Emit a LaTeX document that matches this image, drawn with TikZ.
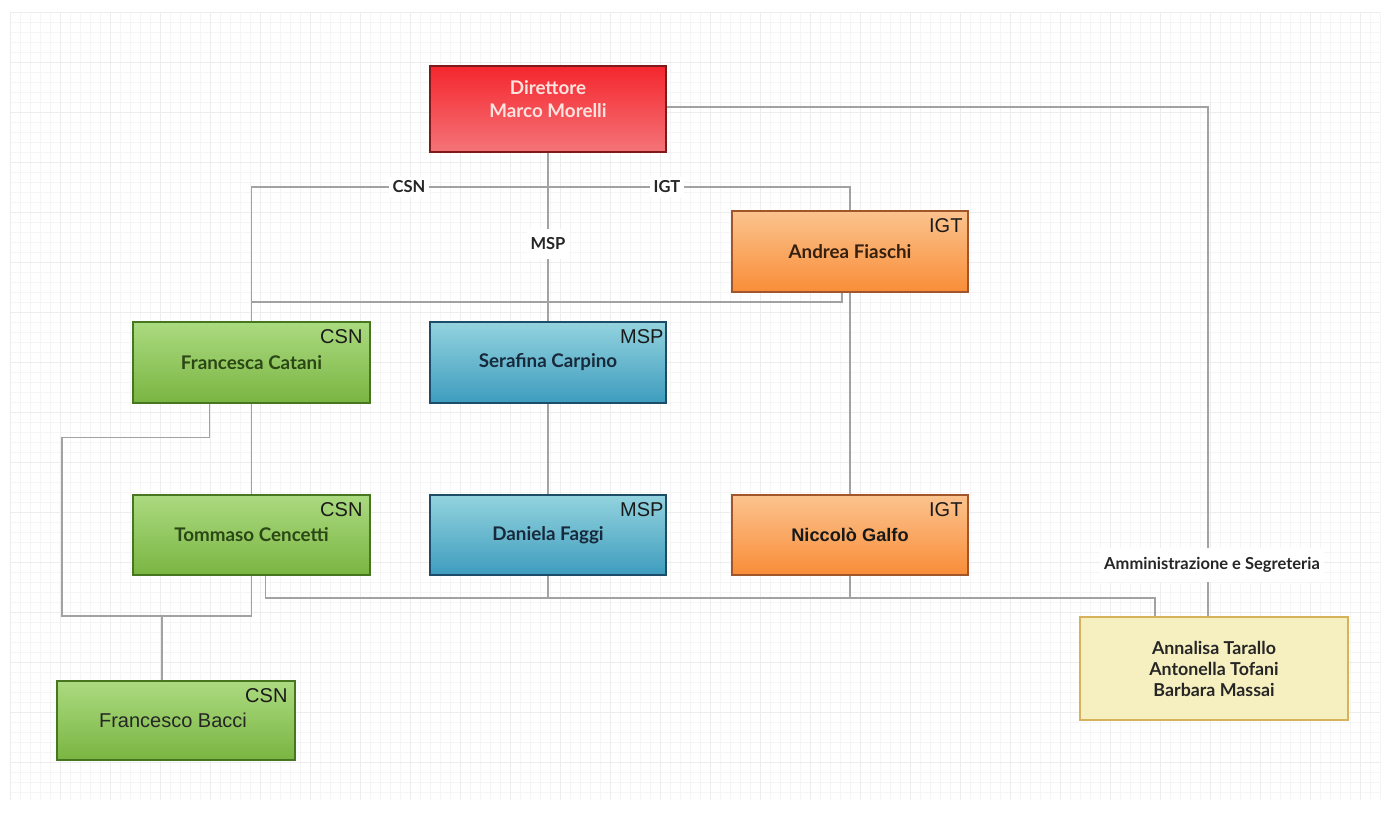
\documentclass[tikz,border=0pt]{standalone}
\usepackage{fontspec}
\setmainfont{Lato}
\newfontfamily\arialfont{Liberation Sans}
\usetikzlibrary{calc}
\definecolor{linegray}{HTML}{A2A2A2}
\definecolor{gridminor}{HTML}{F5F5F5}
\definecolor{gridmajor}{HTML}{EDEDED}
\definecolor{redtop}{HTML}{F5262E}
\definecolor{redbot}{HTML}{F47478}
\definecolor{redborder}{HTML}{7E1A1A}
\definecolor{redtext}{HTML}{FDE3DF}
\definecolor{greentop}{HTML}{ABDA80}
\definecolor{greenbot}{HTML}{7AB542}
\definecolor{greenborder}{HTML}{46761F}
\definecolor{greentext}{HTML}{2B4715}
\definecolor{bluetop}{HTML}{93D3DE}
\definecolor{bluebot}{HTML}{3E9CBE}
\definecolor{blueborder}{HTML}{1C4C68}
\definecolor{bluetext}{HTML}{17293A}
\definecolor{orangetop}{HTML}{FBC38E}
\definecolor{orangebot}{HTML}{F98D38}
\definecolor{orangeborder}{HTML}{A0552A}
\definecolor{orangetext}{HTML}{35200F}
\definecolor{yellowfill}{HTML}{F6F0C0}
\definecolor{yellowborder}{HTML}{D6B35A}
\definecolor{tagtext}{HTML}{1A1A1A}
\tikzset{
  box/.style={draw, line width=1.3pt, minimum width=236pt, minimum height=81pt,
    inner sep=0pt, align=center, font=\fontsize{18.8}{22}\selectfont\bfseries},
  greenbox/.style={box, top color=greentop, bottom color=greenbot, draw=greenborder, text=greentext},
  bluebox/.style={box, top color=bluetop, bottom color=bluebot, draw=blueborder, text=bluetext},
  orangebox/.style={box, top color=orangetop, bottom color=orangebot, draw=orangeborder, text=orangetext},
  redbox/.style={box, top color=redtop, bottom color=redbot, draw=redborder, text=redtext},
  yellowbox/.style={box, fill=yellowfill, draw=yellowborder, text=black!85},
  tag/.style={anchor=north east, inner sep=0pt, text=tagtext, font=\arialfont\fontsize{20}{22}\selectfont},
  conn/.style={draw=linegray, line width=1.6pt},
  lbl/.style={fill=white, inner xsep=4pt, inner ysep=4pt, text=black!85, font=\fontsize{16.5}{18}\selectfont\bfseries},
  dirtext/.style={inner sep=0pt, align=center, text=redtext, font=\fontsize{18.8}{23}\selectfont\bfseries}
}
\begin{document}
\begin{tikzpicture}[x=1pt,y=-1pt]
\useasboundingbox (0,0) rectangle (1391,812);
\fill[white] (0,0) rectangle (1391,812);
% faint grid
\foreach \gx in {10,20,...,1380} \draw[gridminor, line width=0.6pt] (\gx,12) -- (\gx,800);
\foreach \gy in {12,22,...,800} \draw[gridminor, line width=0.6pt] (10,\gy) -- (1380,\gy);
\foreach \gx in {10,60,...,1380} \draw[gridmajor, line width=0.8pt] (\gx,12) -- (\gx,800);
\foreach \gy in {12,62,...,800} \draw[gridmajor, line width=0.8pt] (10,\gy) -- (1380,\gy);

% boxes
\node[redbox, minimum height=86pt] (dir) at (548,109) {};
\node[dirtext] (dirtxt) at (548,99) {Direttore\\Marco Morelli};

\node[orangebox] (andrea) at (850,251.5) {Andrea Fiaschi};
\node[tag] (tagA) at ($(andrea.north east)+(-6,8)$) {IGT};

\node[greenbox, minimum width=237pt] (fran) at (251.5,362.5) {Francesca Catani};
\node[tag] (tagF) at ($(fran.north east)+(-8,8)$) {CSN};

\node[bluebox] (sera) at (548,362.5) {Serafina Carpino};
\node[tag] (tagS) at ($(sera.north east)+(-3,8)$) {MSP};

\node[greenbox, minimum width=237pt, minimum height=80pt] (tomm) at (251.5,535) {Tommaso Cencetti};
\node[tag] (tagT) at ($(tomm.north east)+(-8,8)$) {CSN};

\node[bluebox, minimum height=80pt] (dani) at (548,535) {Daniela Faggi};
\node[tag] (tagD) at ($(dani.north east)+(-3,8)$) {MSP};

\node[orangebox, minimum height=80pt, font=\arialfont\fontsize{18.2}{22}\selectfont\bfseries, text=black!90] (nicc) at (850,535) {Niccolò Galfo};
\node[tag] (tagN) at ($(nicc.north east)+(-6,8)$) {IGT};

\node[greenbox, minimum width=238pt, minimum height=79pt, font=\arialfont\fontsize{20}{22}\selectfont, text=black!85] (bacci) at (176,720.5) {\hspace*{-6pt}Francesco Bacci};
\node[tag] (tagB) at ($(bacci.north east)+(-8,8)$) {CSN};

\node[yellowbox, minimum width=268pt, minimum height=103pt, font=\fontsize{17.8}{21}\selectfont\bfseries] (admin) at (1214,668.5) {Annalisa Tarallo\\Antonella Tofani\\Barbara Massai};

% connectors
\draw[conn] (dir.south) -- (sera.north);
\coordinate (csnrow) at (0,187);
\draw[conn] (fran.north) |- (andrea.north |- csnrow) -- (andrea.north);
\coordinate (midrow) at (0,302);
\coordinate (aout) at ($(andrea.south)+(-8,0)$);
\draw[conn] (aout) |- (fran.north |- midrow);
\draw[conn] (andrea.south) -- (nicc.north);
\draw[conn] (fran.south) -- (tomm.north);
\draw[conn] (sera.south) -- (dani.north);
\coordinate (fout) at ($(fran.south)+(-42,0)$);
\draw[conn] (fout) -- ++(0,34) -| (62,616) -| (tomm.south);
\draw[conn] ($(bacci.north)+(-14,0)$) -- ++(0,-65);
\coordinate (botrow) at (0,598);
\coordinate (adin) at ($(admin.north)+(-59,0)$);
\draw[conn] ($(tomm.south)+(14,0)$) |- (adin |- botrow) -- (adin);
\draw[conn] (dani.south) -- (dani.south |- botrow);
\draw[conn] (nicc.south) -- (nicc.south |- botrow);
\coordinate (adtop) at ($(admin.north)+(-6,0)$);
\coordinate (toprow) at (0,107);
\draw[conn] (dir.east |- toprow) -| (adtop);

% line labels
\node[lbl] (lcsn) at (409,187) {CSN};
\node[lbl] (ligt) at (667,187) {IGT};
\node[lbl, inner ysep=9pt] (lmsp) at (548,244) {MSP};
\node[lbl, inner ysep=9pt] (ladm) at (1212,565) {Amministrazione e Segreteria};
\end{tikzpicture}
\end{document}
